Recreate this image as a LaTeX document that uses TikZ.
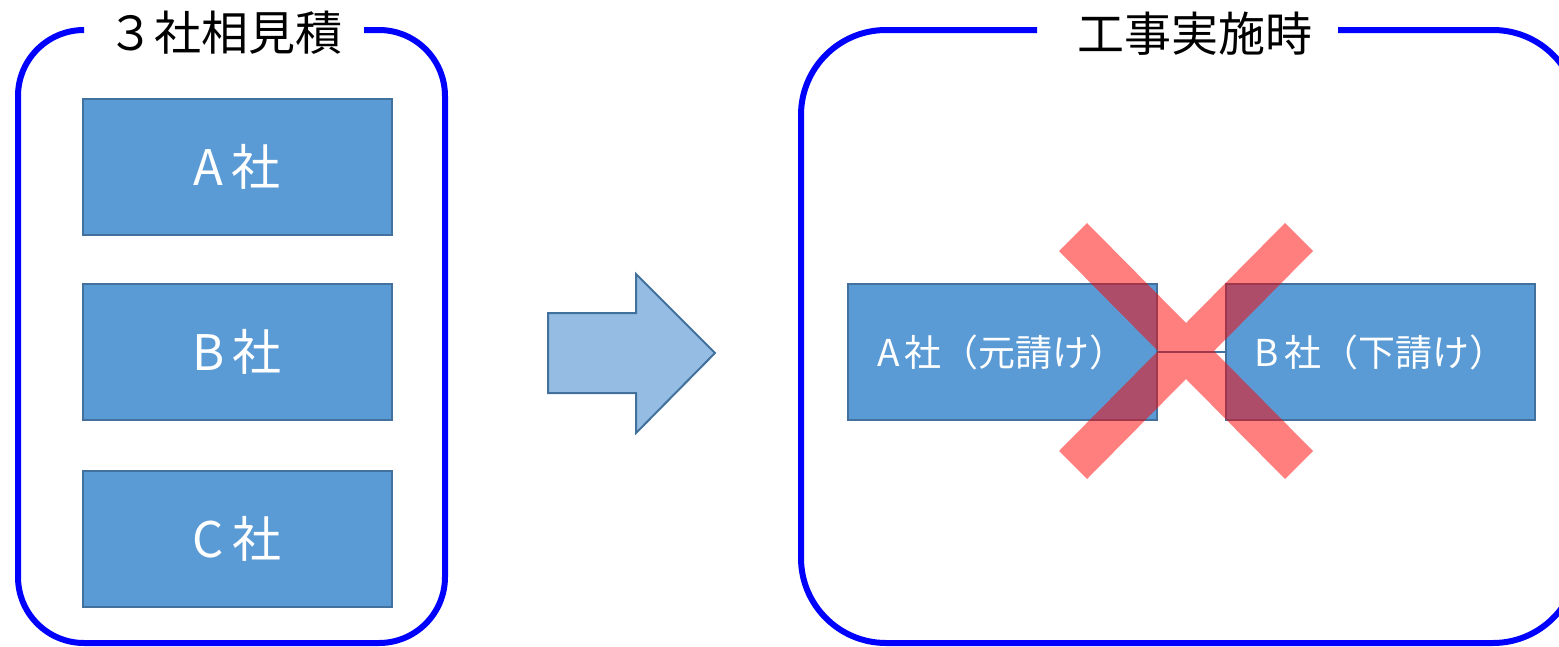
\documentclass[tikz,border=0pt]{standalone}
\usepackage{fontspec}
\setmainfont{Noto Sans CJK JP}
\definecolor{boxfill}{HTML}{5B9BD5}
\definecolor{boxline}{HTML}{41719C}
\definecolor{arrowfill}{HTML}{95BDE3}
\definecolor{frameblue}{HTML}{0000FF}
\tikzset{
  company/.style={draw=boxline, line width=2pt, fill=boxfill, text=white,
    minimum width=309pt, minimum height=136pt, inner sep=0pt,
    font=\fontsize{49}{52}\selectfont},
  company2/.style={company, font=\fontsize{37}{40}\selectfont},
  frame/.style={draw=frameblue, line width=6pt},
  titletext/.style={inner sep=0pt, font=\fontsize{47}{50}\selectfont},
  bigarrow/.style={draw=boxline, line width=2pt, fill=arrowfill, line join=miter},
  cross/.style={fill=red, opacity=0.5},
  link/.style={draw=boxline, line width=1.5pt}
}
\begin{document}
\begin{tikzpicture}[x=1pt,y=-1pt]
\useasboundingbox (0,0) rectangle (1559,646);
% left frame
\node[titletext] (T1) at (225,33) {３社相見積};
\draw[frame, rounded corners=66pt] (82,30) -- (18,30) -- (18,643) -- (445,643) -- (445,30) -- (364,30);
% right frame
\node[titletext] (T2) at (1195,34) {工事実施時};
\draw[frame, rounded corners=85pt] (1037,30) -- (801,30) -- (801,643) -- (1578,643) -- (1578,30) -- (1338,30);
% companies
\node[company] (A) at (237,167) {\raisebox{-3pt}{A\hspace{8pt}社}};
\node[company] (B) at (237,352) {\raisebox{-3pt}{B\hspace{8pt}社}};
\node[company] (C) at (237,539) {\raisebox{-3pt}{C\hspace{8pt}社}};
% arrow
\draw[bigarrow] (548,313) -- (636,313) -- (636,274) -- (715,353) -- (636,433) -- (636,393) -- (548,393) -- cycle;
% right side
\node[company2] (P) at (1002,352) {\raisebox{-3pt}{A\hspace{5pt}社（元請け）}};
\node[company2] (S) at (1380.5,352) {\raisebox{-3pt}{B\hspace{5pt}社（下請け）}};
\draw[link] (P.east) -- (S.west);
% cross
\fill[cross] (1186,323) -- (1285,223) -- (1313,251) -- (1214,351) -- (1313,451) -- (1285,479)
  -- (1186,379) -- (1087,479) -- (1059,451) -- (1158,351) -- (1059,251) -- (1087,223) -- cycle;
\end{tikzpicture}
\end{document}
